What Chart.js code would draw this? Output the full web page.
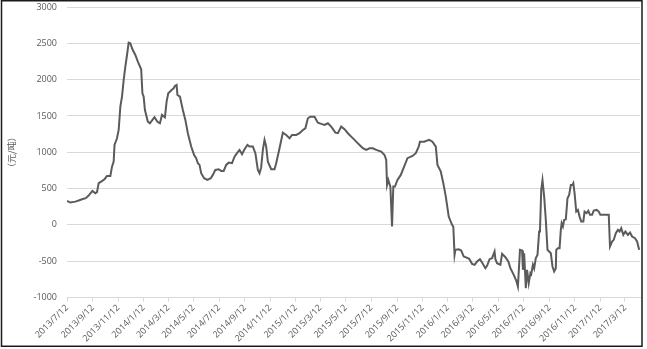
<!DOCTYPE html>
<html lang="zh">
  <head>
    <meta charset="UTF-8" />
    <script src="https://cdn.jsdelivr.net/npm/chart.js@4.4.0/dist/chart.umd.min.js"></script>
    <title>价差走势</title>
    <style>
      body {
        margin: 0;
        padding: 0;
        background: #fff;
      }
      .container {
        width: 647px;
        height: 349px;
        position: relative;
      }
    </style>
  </head>
  <body>
    <div class="container">
      <canvas id="spread"></canvas>
    </div>
    <script>
      const startDate = '2013/7/12'
      const endDate = '2017/4/17'

      const tickLabels = [
        '2013/7/12', '2013/9/12', '2013/11/12', '2014/1/12', '2014/3/12', '2014/5/12',
        '2014/7/12', '2014/9/12', '2014/11/12', '2015/1/12', '2015/3/12', '2015/5/12',
        '2015/7/12', '2015/9/12', '2015/11/12', '2016/1/12', '2016/3/12', '2016/5/12',
        '2016/7/12', '2016/9/12', '2016/11/12', '2017/1/12', '2017/3/12',
      ]

      const dates = [
        '2013/7/12', '2013/7/20', '2013/8/1', '2013/8/9', '2013/8/17', '2013/8/26',
        '2013/9/2', '2013/9/11', '2013/9/18', '2013/9/22', '2013/9/26', '2013/10/2',
        '2013/10/10', '2013/10/16', '2013/10/24', '2013/10/28', '2013/11/1', '2013/11/3',
        '2013/11/9', '2013/11/13', '2013/11/17', '2013/11/21', '2013/11/25', '2013/11/29',
        '2013/12/3', '2013/12/7', '2013/12/11', '2013/12/16', '2013/12/23', '2013/12/29',
        '2014/1/6', '2014/1/9', '2014/1/12', '2014/1/15', '2014/1/22', '2014/1/27',
        '2014/2/2', '2014/2/7', '2014/2/14', '2014/2/20', '2014/2/25', '2014/3/4',
        '2014/3/8', '2014/3/12', '2014/3/20', '2014/3/25', '2014/3/28', '2014/4/1',
        '2014/4/3', '2014/4/9', '2014/4/16', '2014/4/22', '2014/4/28', '2014/5/6',
        '2014/5/13', '2014/5/18', '2014/5/22', '2014/5/26', '2014/5/30', '2014/6/6',
        '2014/6/14', '2014/6/22', '2014/6/27', '2014/7/3', '2014/7/11', '2014/7/17',
        '2014/7/23', '2014/7/29', '2014/8/4', '2014/8/12', '2014/8/18', '2014/8/24',
        '2014/8/30', '2014/9/5', '2014/9/11', '2014/9/18', '2014/9/23', '2014/10/1',
        '2014/10/7', '2014/10/13', '2014/10/17', '2014/10/21', '2014/10/25', '2014/10/29',
        '2014/11/2', '2014/11/6', '2014/11/14', '2014/11/22', '2014/11/26', '2014/12/4',
        '2014/12/12', '2014/12/20', '2014/12/28', '2015/1/3', '2015/1/13', '2015/1/21',
        '2015/1/29', '2015/2/4', '2015/2/10', '2015/2/16', '2015/2/26', '2015/3/6',
        '2015/3/14', '2015/3/22', '2015/3/30', '2015/4/7', '2015/4/17', '2015/4/23',
        '2015/5/1', '2015/5/9', '2015/5/17', '2015/5/25', '2015/6/2', '2015/6/6',
        '2015/6/14', '2015/6/22', '2015/6/30', '2015/7/8', '2015/7/16', '2015/7/24',
        '2015/8/5', '2015/8/13', '2015/8/17', '2015/8/19', '2015/8/22', '2015/8/27',
        '2015/8/31', '2015/9/3', '2015/9/7', '2015/9/13', '2015/9/21', '2015/9/29',
        '2015/10/7', '2015/10/19', '2015/10/27', '2015/11/3', '2015/11/6', '2015/11/16',
        '2015/11/28', '2015/12/6', '2015/12/14', '2015/12/18', '2015/12/26', '2016/1/1',
        '2016/1/7', '2016/1/14', '2016/1/22', '2016/1/25', '2016/1/28', '2016/1/30',
        '2016/2/7', '2016/2/13', '2016/2/19', '2016/2/26', '2016/3/3', '2016/3/10',
        '2016/3/16', '2016/3/22', '2016/3/29', '2016/4/3', '2016/4/11', '2016/4/15',
        '2016/4/21', '2016/4/27', '2016/5/3', '2016/5/5', '2016/5/9', '2016/5/17',
        '2016/5/21', '2016/5/29', '2016/6/5', '2016/6/10', '2016/6/18', '2016/6/24',
        '2016/6/28', '2016/7/3', '2016/7/8', '2016/7/10', '2016/7/13', '2016/7/17',
        '2016/7/20', '2016/7/24', '2016/7/28', '2016/7/30', '2016/8/3', '2016/8/6',
        '2016/8/10', '2016/8/14', '2016/8/18', '2016/8/20', '2016/8/23', '2016/8/26',
        '2016/8/30', '2016/9/3', '2016/9/7', '2016/9/11', '2016/9/15', '2016/9/19',
        '2016/9/23', '2016/9/27', '2016/9/28', '2016/10/2', '2016/10/6', '2016/10/9',
        '2016/10/11', '2016/10/14', '2016/10/17', '2016/10/21', '2016/10/25', '2016/10/29',
        '2016/11/2', '2016/11/6', '2016/11/8', '2016/11/11', '2016/11/15', '2016/11/19',
        '2016/11/23', '2016/11/27', '2016/12/2', '2016/12/5', '2016/12/10', '2016/12/14',
        '2016/12/18', '2016/12/23', '2016/12/27', '2017/1/3', '2017/1/8', '2017/1/12',
        '2017/2/1', '2017/2/4', '2017/2/9', '2017/2/13', '2017/2/18', '2017/2/23',
        '2017/2/27', '2017/3/3', '2017/3/8', '2017/3/13', '2017/3/19', '2017/3/24',
        '2017/3/29', '2017/4/5', '2017/4/10', '2017/4/15',
      ]

      const spread = [
        330, 307, 320, 335, 353, 367,
        403, 468, 436, 450, 574, 596,
        629, 674, 674, 802, 871, 1101,
        1193, 1307, 1628, 1766, 1995, 2178,
        2339, 2509, 2500, 2418, 2339, 2247,
        2142, 1812, 1766, 1582, 1422, 1399,
        1445, 1482, 1420, 1399, 1514, 1480,
        1697, 1812, 1858, 1881, 1913, 1926,
        1789, 1766, 1582, 1445, 1262, 1078,
        963, 918, 849, 826, 711, 643,
        619, 643, 688, 757, 766, 743,
        743, 826, 857, 849, 940, 987,
        1032, 973, 1042, 1101, 1078, 1078,
        987, 757, 711, 794, 1032, 1170,
        1078, 871, 766, 766, 849, 1055,
        1270, 1238, 1193, 1238, 1238, 1262,
        1307, 1330, 1468, 1490, 1490, 1408,
        1390, 1376, 1399, 1353, 1270, 1262,
        1353, 1317, 1262, 1215, 1170, 1146,
        1101, 1055, 1032, 1055, 1055, 1032,
        1009, 963, 894, 550, 619, 527,
        -23, 527, 527, 619, 688, 802,
        918, 949, 987, 1078, 1146, 1146,
        1170, 1146, 1078, 826, 734, 574,
        390, 114, 0, -23, -413, -344,
        -335, -353, -436, -450, -468, -537,
        -550, -505, -472, -518, -596, -564,
        -472, -458, -367, -472, -527, -550,
        -399, -445, -505, -596, -688, -766,
        -849, -344, -353, -619, -390, -871,
        -619, -803, -665, -680, -550, -600,
        -458, -413, -92, -70, 482, 615,
        390, 69, -344, -367, -390, -573,
        -642, -596, -344, -321, -321, -69,
        23, -23, 69, 78, 367, 413,
        550, 550, 574, 436, 183, 206,
        114, 46, 46, 183, 161, 193,
        138, 138, 197, 206, 183, 138,
        138, -298, -229, -206, -114, -69,
        -92, -46, -138, -92, -138, -106,
        -161, -183, -229, -344,
      ]

      const yTicks = [-1000, -500, 0, 500, 1000, 1500, 2000, 2500, 3000]

      const DAY = 86400000
      const dayOf = (s) => Math.round((new Date(s) - new Date(startDate)) / DAY)

      // outer frame round the whole picture
      const frame = {
        id: 'frame',
        afterDraw(chart) {
          const c = chart.ctx
          c.save()
          c.strokeStyle = '#1a1a1a'
          c.lineWidth = 1.5
          c.strokeRect(1.5, 0.75, 640.5, 345.5)
          c.restore()
        },
      }

      const ctx = document.getElementById('spread').getContext('2d')
      new Chart(ctx, {
        type: 'line',
        data: {
          datasets: [
            {
              data: dates.map((d, i) => ({ x: dayOf(d), y: spread[i] })),
              borderColor: '#5b5b5b',
              borderWidth: 2,
              pointRadius: 0,
              tension: 0,
              fill: false,
            },
          ],
        },
        options: {
          animation: false,
          responsive: true,
          maintainAspectRatio: false,
          layout: {
            padding: { left: 0, right: 7, top: 7, bottom: 0 },
          },
          plugins: {
            legend: { display: false },
            tooltip: { enabled: false },
          },
          scales: {
            x: {
              type: 'linear',
              min: 0,
              max: dayOf(endDate),
              afterBuildTicks: (scale) => {
                scale.ticks = tickLabels.map((t) => ({ value: dayOf(t) }))
              },
              afterFit: (scale) => {
                scale.height = 51.5
              },
              ticks: {
                autoSkip: false,
                maxRotation: 45,
                minRotation: 45,
                padding: 1,
                color: '#595959',
                font: { family: 'Open Sans', size: 9 },
                callback: (v, i) => tickLabels[i],
              },
              grid: {
                display: true,
                drawOnChartArea: false,
                drawTicks: true,
                tickLength: 4,
                color: '#d9d9d9',
              },
              border: { color: '#d9d9d9' },
            },
            y: {
              min: -1000,
              max: 3000,
              afterBuildTicks: (scale) => {
                scale.ticks = yTicks.map((v) => ({ value: v }))
              },
              afterFit: (scale) => {
                scale.width = 67
              },
              title: {
                display: true,
                text: '（元/吨）',
                color: '#595959',
                font: { family: 'Noto Sans CJK SC', size: 9 },
                padding: { top: 6, bottom: 0 },
              },
              ticks: {
                padding: 0,
                color: '#595959',
                font: { family: 'Open Sans', size: 9 },
                callback: (v) => String(v),
              },
              grid: {
                color: '#d9d9d9',
                drawTicks: true,
                tickLength: 10,
                tickColor: 'rgba(0,0,0,0)',
              },
              border: { display: false },
            },
          },
        },
        plugins: [frame],
      })
    </script>
  </body>
</html>
